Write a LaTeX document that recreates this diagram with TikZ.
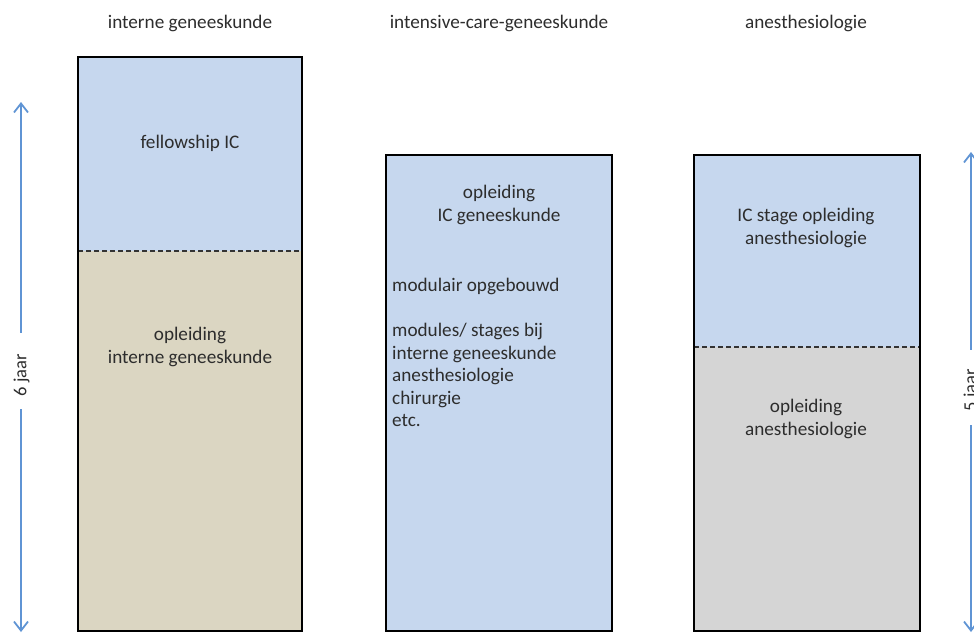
\documentclass[tikz,border=0pt]{standalone}
\usepackage{fontspec}
\setmainfont{Carlito}
\usetikzlibrary{arrows.meta}
\definecolor{boxblue}{RGB}{198,215,238}
\definecolor{boxtan}{RGB}{219,214,194}
\definecolor{boxgray}{RGB}{213,213,213}
\definecolor{arrblue}{RGB}{95,148,212}
\definecolor{txt}{RGB}{45,45,45}
\tikzset{
  box/.style={draw=black, line width=2.2pt},
  divider/.style={draw=black!80, line width=1.1pt, dash pattern=on 5pt off 3pt},
  lbl/.style={font=\fontsize{19.2}{22.5}\selectfont, text=txt, align=center, inner sep=0pt},
  lbll/.style={font=\fontsize{19.2}{22.5}\selectfont, text=txt, align=left, inner sep=0pt},
  yr/.style={font=\fontsize{18.5}{22}\selectfont, text=txt, inner sep=0pt},
  arr/.style={draw=arrblue, line width=1.6pt, -{Straight Barb[length=9pt,width=14pt,line width=1.8pt]}},
}
\begin{document}
\begin{tikzpicture}[x=1pt,y=-1pt]
\useasboundingbox (0,0) rectangle (974,633);
% column titles
\node[lbl] (t1) at (190,23) {interne geneeskunde};
\node[lbl] (t2) at (499,23) {intensive-care-geneeskunde};
\node[lbl] (t3) at (806,23) {anesthesiologie};
% left box
\fill[boxblue] (78,57) rectangle (302,251);
\fill[boxtan] (78,251) rectangle (302,631);
\draw[divider] (78,251) -- (302,251);
\draw[box] (78,57) rectangle (302,631);
\node[lbl] (fell) at (190,143) {fellowship IC};
\node[lbl] (oig) at (190,347) {opleiding\\interne geneeskunde};
% middle box
\fill[boxblue] (386,155) rectangle (612,631);
\draw[box] (386,155) rectangle (612,631);
\node[lbl] (oic) at (499,205) {opleiding\\IC geneeskunde};
\node[lbll, anchor=north west] (mod) at (392,278) {modulair opgebouwd\\[22.5pt]modules/ stages bij\\interne geneeskunde\\anesthesiologie\\chirurgie\\etc.};
% right box
\fill[boxblue] (694,155) rectangle (920,347);
\fill[boxgray] (694,347) rectangle (920,631);
\draw[divider] (694,347) -- (920,347);
\draw[box] (694,155) rectangle (920,631);
\node[lbl] (icst) at (806,228) {IC stage opleiding\\anesthesiologie};
\node[lbl] (oan) at (806,419) {opleiding\\anesthesiologie};
% year arrows
\coordinate (y6top) at (21,102);
\coordinate (y6bot) at (21,632);
\node[yr] (y6) at (21.5,375) {\rotatebox{90}{6 jaar}};
\draw[arr, shorten <=21pt] (y6top |- y6.north) -- (y6top);
\draw[arr, shorten <=13pt] (y6bot |- y6.south) -- (y6bot);
\coordinate (y5top) at (971,152);
\coordinate (y5bot) at (971,632);
\node[yr] (y5) at (971.5,390) {\rotatebox{90}{5 jaar}};
\draw[arr, shorten <=19pt] (y5top |- y5.north) -- (y5top);
\draw[arr, shorten <=14pt] (y5bot |- y5.south) -- (y5bot);
\end{tikzpicture}
\end{document}
